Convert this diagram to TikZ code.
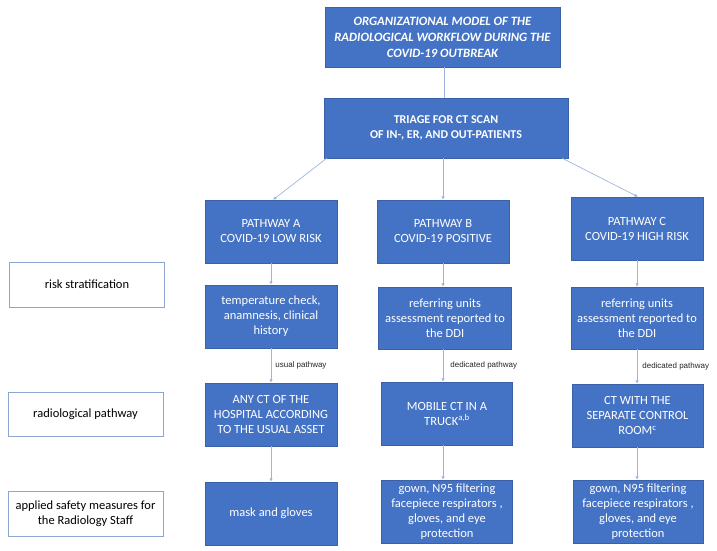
\documentclass[tikz,border=0pt]{standalone}
\usepackage{fontspec}
\setmainfont{Carlito}
\newfontfamily\lblfont{Liberation Sans}
\usetikzlibrary{arrows.meta}
\definecolor{boxblue}{HTML}{4472C4}
\definecolor{linkblue}{HTML}{9DB4DE}
\definecolor{sideline}{HTML}{8EA5D0}
\tikzset{
  bluebox/.style={draw=boxblue!85!black, line width=0.4pt, fill=boxblue, text=white, align=center, inner sep=2pt,
    font=\fontsize{12.5}{15}\selectfont},
  sidebox/.style={draw=sideline, line width=0.8pt, fill=white, text=black, align=center, inner sep=2pt,
    minimum width=155, font=\fontsize{12.5}{15}\selectfont},
  link/.style={draw=linkblue, line width=0.7pt, -{Latex[length=3.5pt,width=3.5pt]}},
  linklabel/.style={font=\lblfont\fontsize{8}{9.5}\selectfont, text=black!85, anchor=west, inner sep=0pt}
}
\begin{document}
\begin{tikzpicture}[x=1pt,y=-1pt]
\useasboundingbox (0,0) rectangle (717,551);
% top
\node[bluebox, minimum width=235, minimum height=60, font=\bfseries\itshape\fontsize{12.7}{16}\selectfont] (top) at (442.5,37)
  {ORGANIZATIONAL MODEL OF THE\\RADIOLOGICAL WORKFLOW DURING THE\\COVID-19 OUTBREAK};
\node[bluebox, minimum width=244, minimum height=60, font=\bfseries\fontsize{12}{14.5}\selectfont] (tri) at (446,128)
  {TRIAGE FOR CT SCAN\\OF IN-, ER, AND OUT-PATIENTS};
% pathways
\node[bluebox, minimum width=132, minimum height=63] (pa) at (271,231.5) {PATHWAY A\\COVID-19 LOW RISK};
\node[bluebox, minimum width=132, minimum height=63] (pb) at (443,231.5) {PATHWAY B\\COVID-19 POSITIVE};
\node[bluebox, minimum width=132, minimum height=63] (pc) at (637,228.5) {PATHWAY C\\COVID-19 HIGH RISK};
% risk row
\node[bluebox, minimum width=132, minimum height=63] (ra) at (271,316.5) {temperature check,\\anamnesis, clinical\\history};
\node[bluebox, minimum width=133, minimum height=62] (rb) at (445,318) {referring units\\assessment reported to\\the DDI};
\node[bluebox, minimum width=132, minimum height=62] (rc) at (637,318) {referring units\\assessment reported to\\the DDI};
% CT row
\node[bluebox, minimum width=132, minimum height=63] (ca) at (271,414.5) {ANY CT OF THE\\HOSPITAL ACCORDING\\TO THE USUAL ASSET};
\node[bluebox, minimum width=131, minimum height=63] (cb) at (447,413.5) {MOBILE CT IN A\\TRUCK\textsuperscript{a,b}};
\node[bluebox, minimum width=131, minimum height=63] (cc) at (637.5,415.5) {CT WITH THE\\SEPARATE CONTROL\\ROOM\textsuperscript{c}};
% safety row
\node[bluebox, minimum width=132, minimum height=63] (sa) at (271,513.5) {mask and gloves};
\node[bluebox, minimum width=131, minimum height=63, font=\fontsize{12.5}{14.8}\selectfont] (sb) at (447,511.5) {gown, N95 filtering\\facepiece respirators ,\\gloves, and eye\\protection};
\node[bluebox, minimum width=130, minimum height=63, font=\fontsize{12.5}{14.8}\selectfont] (sc) at (638,511.5) {gown, N95 filtering\\facepiece respirators ,\\gloves, and eye\\protection};
% side labels
\node[sidebox, minimum height=45] (l1) at (87,284.5) {risk stratification};
\node[sidebox, minimum height=44] (l2) at (85.5,414) {radiological pathway};
\node[sidebox, minimum height=45] (l3) at (85.5,513.5) {applied safety measures for\\the Radiology Staff};
% connectors
\draw[draw=linkblue, line width=0.7pt] (top.south -| tri.north) ++(-2,0) coordinate (tt) -- (tt |- tri.north);
\draw[link] ([xshift=3]tri.south west) -- ([xshift=2]pa.north);
\draw[link] (tri.south -| pb.north) -- (pb.north);
\draw[link] ([xshift=-6]tri.south east) -- ([xshift=1]pc.north);
% A column
\draw[link] (pa.south) -- (pa.south |- ra.north);
\draw[link] (ra.south) -- (ra.south |- ca.north) node[midway, linklabel, xshift=4] {usual pathway};
\draw[link] (ca.south) -- (ca.south |- sa.north);
% B column
\draw[link] (pb.south) -- (pb.south |- rb.north);
\draw[link] (pb.south |- rb.south) -- (pb.south |- cb.north) node[midway, linklabel, xshift=7] {dedicated pathway};
\draw[link] (pb.south |- cb.south) -- (pb.south |- sb.north);
% C column
\draw[link] (pc.south) -- (pc.south |- rc.north);
\draw[link] (rc.south) -- (rc.south |- cc.north) node[midway, linklabel, xshift=5] {dedicated pathway};
\draw[link] (rc.south |- cc.south) -- (rc.south |- sc.north);
\end{tikzpicture}
\end{document}
